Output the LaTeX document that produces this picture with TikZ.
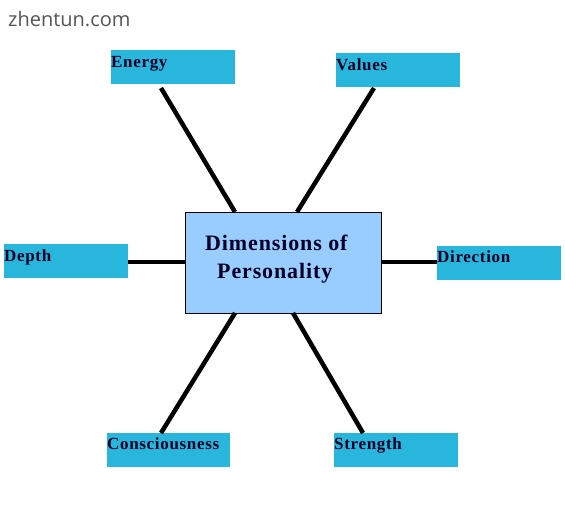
\documentclass[tikz,border=0pt]{standalone}
\usepackage{fontspec}
\setmainfont{Liberation Serif}
\newfontfamily\wmfont{Open Sans}
\definecolor{boxcyan}{HTML}{29B6DC}
\definecolor{centerblue}{HTML}{99CCFF}
\definecolor{wmgray}{HTML}{555555}
\begin{document}
\begin{tikzpicture}[x=1pt,y=-1pt,
  dimbox/.style={fill=boxcyan,draw=none,inner sep=0pt,anchor=north west,minimum width=124pt,minimum height=34pt},
  lbl/.style={anchor=base west,inner sep=0pt,font=\fontsize{17}{17}\selectfont\bfseries\addfontfeature{LetterSpace=4},text=black!85!blue},
  title/.style={anchor=base west,inner sep=0pt,font=\fontsize{22}{22}\selectfont\bfseries\addfontfeature{LetterSpace=4},text=black!85!blue},
  spoke/.style={line width=4.5pt,black}]
\useasboundingbox (0,0) rectangle (565,525);
\fill[white] (0,0) rectangle (565,525);
\node[anchor=base west,inner sep=0pt,text=wmgray,font=\wmfont\fontsize{20}{20}\selectfont] (wm) at (8,26) {zhentun.com};
% boxes
\node[dimbox] (energy) at (111,50) {};
\node[dimbox] (values) at (336,53) {};
\node[dimbox] (depth) at (4,244) {};
\node[dimbox] (direction) at (437,246) {};
\node[dimbox,minimum width=123pt] (consc) at (107,433) {};
\node[dimbox] (strength) at (334,433) {};
\node[draw=black,line width=0.8pt,fill=centerblue,inner sep=0pt,anchor=north west,minimum width=196pt,minimum height=101pt] (center) at (185,212) {};
% labels
\node[lbl] (tenergy) at (111,67) {Energy};
\node[lbl] (tvalues) at (336,70) {Values};
\node[lbl] (tdepth) at (4,261) {Depth};
\node[lbl] (tdirection) at (437,262) {Direction};
\node[lbl] (tconsc) at (107,449) {Consciousness};
\node[lbl] (tstrength) at (334,449) {Strength};
\node[title] (t1) at (205,250) {Dimensions of};
\node[title] (t2) at (217,278) {Personality};
% spoke endpoints
\coordinate (e1) at (161,88);  \coordinate (e2) at (235,212);
\coordinate (v1) at (374,88);  \coordinate (v2) at (297,212);
\coordinate (c1) at (235,313); \coordinate (c2) at (161,433);
\coordinate (s1) at (293,313); \coordinate (s2) at (363,433);
\draw[spoke] (e1) -- (e2);
\draw[spoke] (v1) -- (v2);
\draw[spoke] (c1) -- (c2);
\draw[spoke] (s1) -- (s2);
\draw[spoke] (depth.east |- 0,262) -- (center.west |- 0,262);
\draw[spoke] (center.east |- 0,262) -- (direction.west |- 0,262);
\end{tikzpicture}
\end{document}
